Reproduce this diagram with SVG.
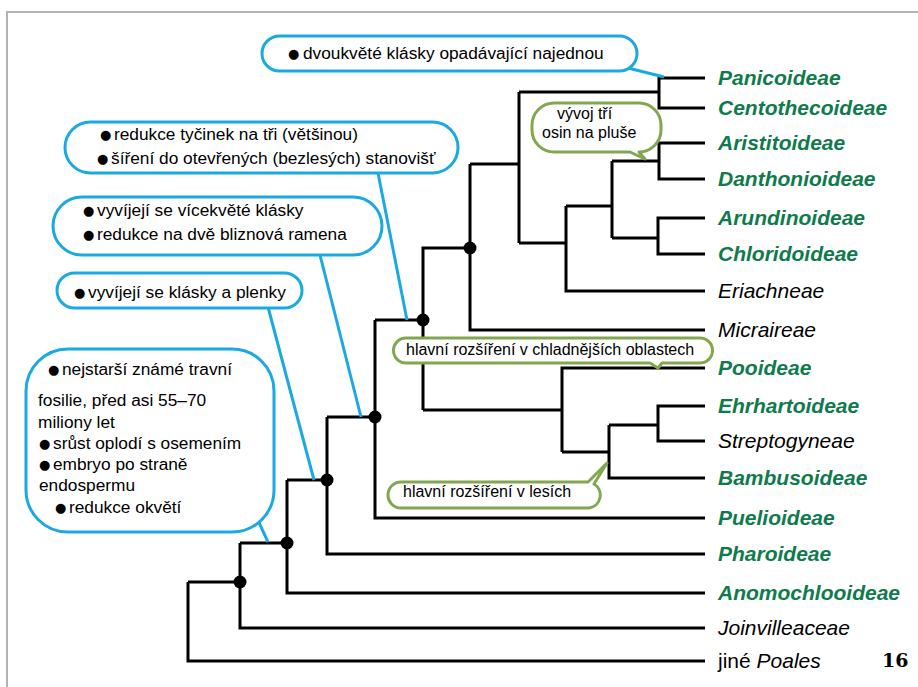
<svg xmlns="http://www.w3.org/2000/svg" width="918" height="687" viewBox="0 0 918 687">
<style>
.frame{fill:none;stroke:#b3b3b3;stroke-width:2}
.br{fill:none;stroke:#000;stroke-width:3;stroke-linejoin:miter}
.dot{fill:#000}
.cb{fill:#fff;stroke:#1ba9e2;stroke-width:3}
.ct{fill:none;stroke:#1ba9e2;stroke-width:3}
.cg{fill:#fff;stroke:#82a84f;stroke-width:3;stroke-linejoin:round}
.t{font-family:"Liberation Sans","DejaVu Sans",sans-serif;font-size:17.3px;fill:#000}
.tg{font-family:"Liberation Sans","DejaVu Sans",sans-serif;font-size:16px;fill:#000}
.b{font-family:"DejaVu Sans",sans-serif;font-size:13px}
.lg{font-family:"Liberation Sans",sans-serif;font-size:21px;font-weight:bold;font-style:italic;fill:#0f7a4c}
.lk{font-family:"Liberation Sans",sans-serif;font-size:21px;font-style:italic;fill:#000}
.pg{font-family:"DejaVu Serif",serif;font-size:19px;font-weight:bold;fill:#000}
</style>
<g id="frame">
<path class="frame" d="M7,687 V12 H918"/>
</g>
<g id="connectors">
<path class="br" d="M705,78 H659 V108 H705 M659,92 H519"/>
<path class="br" d="M705,143 H659 V179 H705 M659,161 H612"/>
<path class="br" d="M705,218 H658 V254 H705 M658,238 H612"/>
<path class="br" d="M612,161 V238 M612,206 H566"/>
<path class="br" d="M705,291 H566 V206 M566,243 H519"/>
<path class="br" d="M519,92 V243 M519,164 H470"/>
<path class="br" d="M705,330 H470 V164 M470,248 H423 V410"/>
<path class="br" d="M705,368 H562 V452 M562,410 H423"/>
<path class="br" d="M705,406 H658 V441 H705 M658,425 H609"/>
<path class="br" d="M705,478 H609 V425 M609,452 H562"/>
<path class="br" d="M423,320 H375 M705,518 H375 V320"/>
<path class="br" d="M375,417 H327 M705,554 H327 V417"/>
<path class="br" d="M327,480 H287 M705,593 H287 V480"/>
<path class="br" d="M287,543 H240 M705,628 H240 V543"/>
<path class="br" d="M240,582 H188 M705,661 H188 V582"/>
<circle class="dot" cx="470" cy="248" r="6.5"/>
<circle class="dot" cx="423" cy="320" r="6.5"/>
<circle class="dot" cx="375" cy="417" r="6.5"/>
<circle class="dot" cx="327" cy="480" r="6.5"/>
<circle class="dot" cx="287" cy="543" r="6.5"/>
<circle class="dot" cx="240" cy="582" r="6.5"/>
<line class="ct" x1="628" y1="68" x2="664" y2="77"/>
<line class="ct" x1="378" y1="173" x2="407" y2="320"/>
<line class="ct" x1="320" y1="255" x2="361" y2="417"/>
<line class="ct" x1="268" y1="307" x2="314" y2="480"/>
<line class="ct" x1="257" y1="518" x2="268" y2="542"/>
</g>
<g id="callout-top">
<rect class="cb" x="262" y="36" width="375" height="35" rx="17.5"/>
<text class="t" y="59"><tspan class="b" x="288" dy="-1">●</tspan><tspan x="303" dy="1">dvoukvěté klásky opadávající najednou</tspan></text>
</g>
<g id="callout-tycinky">
<rect class="cb" x="65" y="122" width="393" height="51" rx="25.5"/>
<text class="t" y="140"><tspan class="b" x="100" dy="-1">●</tspan><tspan x="114" dy="1">redukce tyčinek na tři (většinou)</tspan></text>
<text class="t" y="164"><tspan class="b" x="97" dy="-1">●</tspan><tspan x="111" dy="1">šíření do otevřených (bezlesých) stanovišť</tspan></text>
</g>
<g id="callout-vicekvete">
<rect class="cb" x="53" y="197" width="329" height="58" rx="29"/>
<text class="t" y="216"><tspan class="b" x="83" dy="-1">●</tspan><tspan x="97" dy="1">vyvíjejí se vícekvěté klásky</tspan></text>
<text class="t" y="240"><tspan class="b" x="83" dy="-1">●</tspan><tspan x="97" dy="1">redukce na dvě bliznová ramena</tspan></text>
</g>
<g id="callout-klasky">
<rect class="cb" x="57" y="273" width="245" height="35" rx="17.5"/>
<text class="t" y="298"><tspan class="b" x="74" dy="-1">●</tspan><tspan x="88" dy="1">vyvíjejí se klásky a plenky</tspan></text>
</g>
<g id="callout-fosilie">
<rect class="cb" x="26" y="349" width="248" height="183" rx="42"/>
<text class="t" y="375"><tspan class="b" x="48" dy="-1">●</tspan><tspan x="62" dy="1">nejstarší známé travní</tspan></text>
<text class="t" x="38" y="406">fosilie, před asi 55–70</text>
<text class="t" x="38" y="428">miliony let</text>
<text class="t" y="449"><tspan class="b" x="39" dy="-1">●</tspan><tspan x="53" dy="1">srůst oplodí s osemením</tspan></text>
<text class="t" y="470"><tspan class="b" x="39" dy="-1">●</tspan><tspan x="53" dy="1">embryo po straně</tspan></text>
<text class="t" x="39" y="491">endospermu</text>
<text class="t" y="513"><tspan class="b" x="55" dy="-1">●</tspan><tspan x="69" dy="1">redukce okvětí</tspan></text>
</g>
<g id="callout-osiny">
<path class="cg" d="M554,103 H639 A22,22 0 0 1 661,125 V130 A22,22 0 0 1 639,152 L645,159 L630,152 H554 A22,22 0 0 1 532,130 V125 A22,22 0 0 1 554,103 Z"/>
<text class="tg" x="557" y="119">vývoj tří</text>
<text class="tg" x="542" y="138">osin na pluše</text>
</g>
<g id="callout-chladne">
<path class="cg" d="M406,338 H700 A12.5,12.5 0 0 1 700,363 H662 L658,368 L650,363 H406 A12.5,12.5 0 0 1 406,338 Z"/>
<text class="tg" x="406" y="355">hlavní rozšíření v chladnějších oblastech</text>
</g>
<g id="callout-lesy">
<path class="cg" d="M401,482 H588 L607,463 L594,484 A13,13 0 0 1 589,508 H401 A13,13 0 0 1 401,482 Z"/>
<text class="tg" x="403" y="497">hlavní rozšíření v lesích</text>
</g>
<g id="labels">
<text class="lg" x="718" y="85">Panicoideae</text>
<text class="lg" x="718" y="115">Centothecoideae</text>
<text class="lg" x="718" y="150">Aristitoideae</text>
<text class="lg" x="718" y="186">Danthonioideae</text>
<text class="lg" x="718" y="225">Arundinoideae</text>
<text class="lg" x="718" y="261">Chloridoideae</text>
<text class="lk" x="718" y="298">Eriachneae</text>
<text class="lk" x="718" y="337">Micraireae</text>
<text class="lg" x="718" y="375">Pooideae</text>
<text class="lg" x="718" y="413">Ehrhartoideae</text>
<text class="lk" x="718" y="448">Streptogyneae</text>
<text class="lg" x="718" y="485">Bambusoideae</text>
<text class="lg" x="718" y="525">Puelioideae</text>
<text class="lg" x="718" y="561">Pharoideae</text>
<text class="lg" x="718" y="600">Anomochlooideae</text>
<text class="lk" x="718" y="635">Joinvilleaceae</text>
<text class="lk" x="718" y="668"><tspan font-style="normal">jiné </tspan>Poales</text>
<text class="pg" x="882" y="667">16</text>
</g>
</svg>
